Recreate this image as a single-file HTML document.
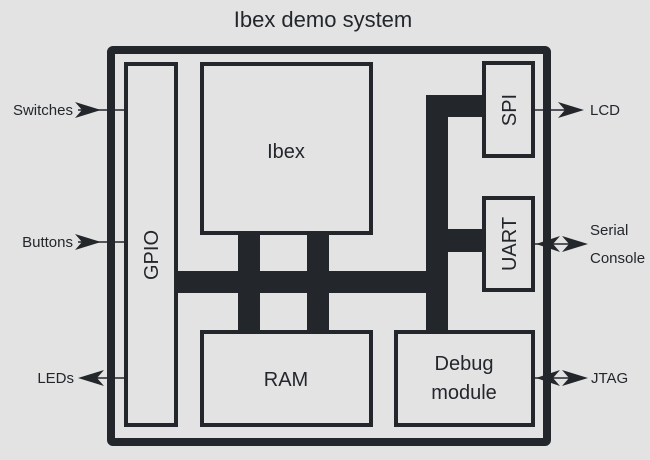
<!DOCTYPE html>
<html><head><style>body{margin:0;background:#e3e3e3}svg{display:block}</style></head><body>
<svg width="650" height="460" xmlns="http://www.w3.org/2000/svg" font-family="Liberation Sans, sans-serif" fill="#23272c">
<rect width="650" height="460" fill="#e3e3e3"/>
<text x="323" y="27" font-size="22" text-anchor="middle">Ibex demo system</text>
<g fill="none" stroke="#23272c">
<rect x="111" y="50" width="436" height="392" stroke-width="8" rx="2"/>
<rect x="126" y="64" width="50" height="361" stroke-width="4"/>
<rect x="202" y="64" width="169" height="169" stroke-width="4"/>
<rect x="202" y="332" width="169" height="93" stroke-width="4"/>
<rect x="396" y="332" width="137" height="93" stroke-width="4"/>
<rect x="484" y="63" width="49" height="93" stroke-width="4"/>
<rect x="484" y="198" width="49" height="92" stroke-width="4"/>
<g stroke-width="1.5">
<line x1="78" y1="110" x2="124" y2="110"/>
<line x1="78" y1="242" x2="124" y2="242"/>
<line x1="85" y1="378" x2="124" y2="378"/>
<line x1="535" y1="110" x2="580" y2="110"/>
<line x1="535" y1="244" x2="580" y2="244"/>
<line x1="535" y1="378" x2="580" y2="378"/>
</g>
</g>
<rect x="178" y="271" width="270" height="22"/>
<rect x="426" y="95" width="22" height="235"/>
<rect x="448" y="95" width="34" height="22"/>
<rect x="448" y="229" width="34" height="23"/>
<rect x="238" y="235" width="22" height="95"/>
<rect x="307" y="235" width="22" height="95"/>
<g>
<path d="M75 102 L101 110 L75 118 L82 110Z"/>
<path d="M75 234 L101 242 L75 250 L82 242Z"/>
<path d="M78 378 L104 370 L97 378 L104 386Z"/>
<path d="M558 102 L584 110 L558 118 L565 110Z"/>
<path d="M562 236 L588 244 L562 252 L569 244Z"/>
<path d="M536 244 L560 236 L553 244 L560 252Z"/>
<path d="M562 370 L588 378 L562 386 L569 378Z"/>
<path d="M536 378 L560 370 L553 378 L560 386Z"/>
</g>
<g font-size="15">
<text x="73" y="115" text-anchor="end">Switches</text>
<text x="73" y="247" text-anchor="end">Buttons</text>
<text x="74" y="383" text-anchor="end">LEDs</text>
<text x="590" y="115">LCD</text>
<text x="590" y="235">Serial</text>
<text x="590" y="263">Console</text>
<text x="591" y="383">JTAG</text>
</g>
<g font-size="20" text-anchor="middle">
<text x="286" y="158">Ibex</text>
<text x="286" y="386">RAM</text>
<text x="464" y="370">Debug</text>
<text x="464" y="399">module</text>
<text transform="translate(158,255) rotate(-90)">GPIO</text>
<text transform="translate(516,110) rotate(-90)">SPI</text>
<text transform="translate(516,244) rotate(-90)">UART</text>
</g>
</svg>
</body></html>
